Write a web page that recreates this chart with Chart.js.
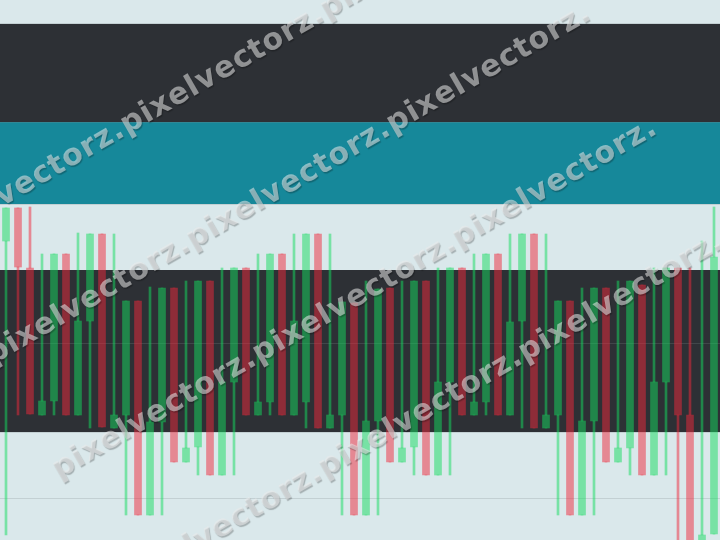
<!DOCTYPE html>
<html lang="en">
<head>
    <meta charset="UTF-8">
    <meta name="viewport" content="width=device-width, initial-scale=1.0">
    <title>Candles</title>
    <style>
        html, body {
            margin: 0;
            padding: 0;
            background: #dae8eb;
        }
        #chart {
            width: 720px;
            height: 540px;
        }
    </style>
</head>
<body>
    <div id="chart"></div>
</body>
<script src="https://cdn.jsdelivr.net/npm/chart.js@4/dist/chart.umd.min.js"></script>
<script>
    // one candle per slot, price units
    const open  = [359, 392, 332, 185, 199, 346, 185, 279, 366, 172, 185, 299, 85, 178, 312, 138, 153, 319, 125, 218,
                   332, 185, 198, 346, 185, 198, 366, 172, 185, 297, 85, 179, 312, 138, 153, 319, 125, 218, 332, 185,
                   198, 346, 185, 279, 366, 172, 185, 299, 85, 179, 312, 138, 152, 315, 125, 218, 332, 185, 55, 66];
    const high  = [392, 392, 393, 346, 346, 346, 367, 366, 366, 366, 299, 299, 313, 312, 312, 319, 319, 319, 332, 332,
                   332, 346, 346, 346, 366, 366, 366, 366, 298, 297, 319, 311, 312, 319, 319, 319, 332, 332, 332, 346,
                   346, 346, 366, 366, 366, 366, 299, 299, 312, 312, 312, 319, 319, 315, 332, 332, 332, 332, 359, 393];
    const low   = [65, 185, 186, 185, 185, 185, 185, 172, 173, 172, 85, 85, 85, 85, 138, 138, 125, 125, 125, 125,
                   185, 185, 185, 185, 185, 172, 172, 172, 85, 85, 85, 85, 138, 138, 125, 125, 125, 125, 185, 185,
                   185, 185, 185, 172, 172, 172, 85, 85, 85, 85, 138, 138, 125, 125, 125, 125, 55, 50, 55, 66];
    const close = [392, 333, 186, 199, 346, 185, 279, 366, 173, 185, 299, 85, 178, 312, 138, 152, 319, 125, 218, 332,
                   185, 198, 346, 185, 279, 366, 172, 185, 298, 85, 179, 311, 138, 152, 319, 125, 218, 332, 185, 198,
                   346, 185, 278, 366, 172, 185, 299, 85, 179, 312, 138, 152, 319, 125, 218, 332, 185, 55, 65, 343];
    const labels = open.map((v, i) => i + 1);

    // horizontal background bands (price ranges)
    const bandLow  = [478, 396, 168];
    const bandHigh = [576, 478, 330];
    // faint grid lines
    const gridValues = [576, 478, 396, 257, 168, 102];

    const bandColors = ['#2d3035', '#16889a', '#2d3035'];
    const up = 'rgba(20,220,95,0.5)';
    const down = 'rgba(240,40,60,0.5)';
    const colors = open.map((o, i) => close[i] >= o ? up : down);

    const body = open.map((o, i) => [o, close[i]]);
    const upperWick = open.map((o, i) => [Math.max(o, close[i]), high[i]]);
    const lowerWick = open.map((o, i) => [low[i], Math.min(o, close[i])]);

    const bands = {
        id: 'bands',
        beforeDraw(chart) {
            const { ctx, chartArea: a, scales: { y } } = chart;
            ctx.save();
            ctx.fillStyle = '#dae8eb';
            ctx.fillRect(0, 0, chart.width, chart.height);
            bandLow.forEach((lo, i) => {
                const top = y.getPixelForValue(bandHigh[i]);
                const bottom = y.getPixelForValue(lo);
                ctx.fillStyle = bandColors[i];
                ctx.fillRect(a.left, top, a.right - a.left, bottom - top);
            });
            ctx.restore();
        }
    };

    const watermark = {
        id: 'watermark',
        afterDraw(chart) {
            const ctx = chart.ctx;
            const text = 'pixelvectorz.'.repeat(3);
            ctx.save();
            ctx.translate(55, 472);
            ctx.rotate(-Math.PI / 6);
            ctx.font = 'bold 30px "DejaVu Sans"';
            ctx.letterSpacing = '1px';
            ctx.textBaseline = 'middle';
            ctx.shadowColor = 'rgba(0,0,0,0.45)';
            ctx.shadowOffsetX = 1;
            ctx.shadowOffsetY = 1.5;
            ctx.shadowBlur = 1;
            ctx.fillStyle = 'rgba(235,235,235,0.55)';
            for (let k = -2; k <= 1; k++) {
                ctx.fillText(text, 0, k * 132);
            }
            ctx.restore();
        }
    };

    const chart = document.querySelector('#chart');
    const canvas = document.createElement('canvas');
    chart.appendChild(canvas);
    new Chart(canvas, {
        type: 'bar',
        data: {
            labels: labels,
            datasets: [
                { label: 'upper', data: upperWick, backgroundColor: colors, barThickness: 2 },
                { label: 'lower', data: lowerWick, backgroundColor: colors, barThickness: 2 },
                { label: 'body', data: body, backgroundColor: colors, barThickness: 7 }
            ]
        },
        options: {
            maintainAspectRatio: false,
            animation: false,
            events: [],
            grouped: false,
            borderWidth: 0,
            layout: { padding: 0 },
            plugins: {
                legend: { display: false },
                tooltip: { enabled: false }
            },
            scales: {
                x: { display: false },
                y: {
                    min: 60,
                    max: 600,
                    afterBuildTicks: (axis) => { axis.ticks = gridValues.map(v => ({ value: v })); },
                    afterFit: (axis) => { axis.width = 0; },
                    ticks: { display: false },
                    border: { display: false },
                    grid: { drawTicks: false, color: 'rgba(128,134,138,0.25)' }
                }
            }
        },
        plugins: [bands, watermark]
    });
</script>
</html>
